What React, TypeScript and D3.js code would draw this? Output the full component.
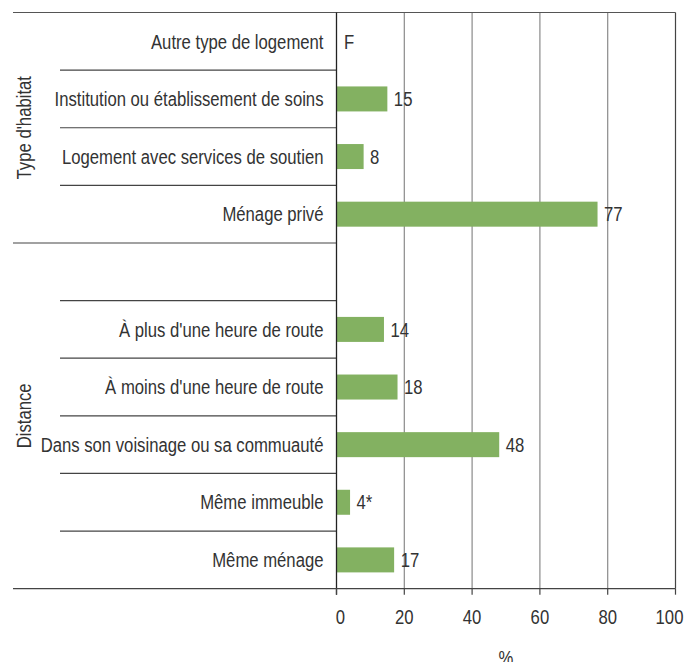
import React from "react";
import * as d3 from "d3";

const categories = [
  "Autre type de logement",
  "Institution ou établissement de soins",
  "Logement avec services de soutien",
  "Ménage privé",
  "",
  "À plus d'une heure de route",
  "À moins d'une heure de route",
  "Dans son voisinage ou sa commuauté",
  "Même immeuble",
  "Même ménage",
];
const values: (number | null)[] = [null, 15, 8, 77, null, 14, 18, 48, 4, 17];
const valueLabels = ["F", "15", "8", "77", "", "14", "18", "48", "4*", "17"];
const groups = [
  { name: "Type d'habitat", from: 0, to: 3 },
  { name: "Distance", from: 4, to: 9 },
];
const xTicks = [0, 20, 40, 60, 80, 100];
const xTitle = "%";

const W = 684;
const H = 662;
const FONT = "'Liberation Sans', Arial, sans-serif";
const TEXT = "#333";
const FS = 20;
const SX = 0.835;

function T({
  x,
  y,
  anchor = "start",
  rotate = 0,
  dy = "0.36em",
  children,
}: {
  x: number;
  y: number;
  anchor?: string;
  rotate?: number;
  dy?: string;
  children: React.ReactNode;
}) {
  return (
    <text
      transform={`translate(${x},${y}) rotate(${rotate}) scale(${SX},1)`}
      textAnchor={anchor}
      dy={dy}
      fontSize={FS}
      fill={TEXT}
    >
      {children}
    </text>
  );
}

export default function App() {
  const left = 336.5;
  const right = 675.5;
  const top = 12.5;
  const bottom = 588.7;
  const x = d3.scaleLinear().domain([0, 100]).range([left, right]);
  const y = d3
    .scaleBand<number>()
    .domain(categories.map((_, i) => i))
    .range([top, bottom])
    .padding(0);
  const bw = y.bandwidth();
  const barH = 25;

  const seps: { y: number; x0: number }[] = [];
  for (let i = 1; i < categories.length; i++) {
    const isGroupStart = groups.some((g) => g.from === i);
    seps.push({ y: y(i)!, x0: isGroupStart ? 13 : 60 });
  }

  return (
    <svg
      width={W}
      height={H}
      style={{ position: "absolute", left: 0, top: 0, background: "#fff" }}
      fontFamily={FONT}
    >
      {xTicks.slice(1).map((t) => (
        <line
          key={"g" + t}
          x1={x(t)}
          x2={x(t)}
          y1={top}
          y2={bottom}
          stroke={t === 100 ? "#444" : "#8a8a8a"}
          strokeWidth={1.2}
        />
      ))}
      <line x1={13} x2={right} y1={top} y2={top} stroke="#555" strokeWidth={1.2} />
      {seps.map((s, i) => (
        <line key={"s" + i} x1={s.x0} x2={left} y1={s.y} y2={s.y} stroke="#444" strokeWidth={1.2} />
      ))}
      {values.map((v, i) =>
        v == null ? null : (
          <rect
            key={"b" + i}
            x={x(0)}
            y={y(i)! + bw / 2 - barH / 2}
            width={x(v) - x(0)}
            height={barH}
            fill="#83b161"
          />
        )
      )}
      {valueLabels.map((l, i) => (
        <T key={"v" + i} x={x(values[i] ?? 0) + (values[i] == null ? 7.5 : 6.5)} y={y(i)! + bw / 2}>
          {l}
        </T>
      ))}
      {categories.map((c, i) => (
        <T key={"c" + i} x={left - 13} y={y(i)! + bw / 2} anchor="end">
          {c}
        </T>
      ))}
      {groups.map((g) => {
        const cy = (y(g.from)! + y(g.to)! + bw) / 2;
        return (
          <T key={g.name} x={24} y={cy} rotate={-90} anchor="middle">
            {g.name}
          </T>
        );
      })}
      <line x1={left} x2={left} y1={top} y2={bottom + 6} stroke="#222" strokeWidth={1.3} />
      <line x1={13} x2={right} y1={bottom} y2={bottom} stroke="#444" strokeWidth={1.3} />
      {xTicks.map((t, i) => (
        <g key={"t" + t}>
          <line x1={x(t)} x2={x(t)} y1={bottom} y2={bottom + 6} stroke="#444" strokeWidth={1.2} />
          <T
            x={x(t) + (i === 0 ? 4 : i === xTicks.length - 1 ? -6 : 0)}
            y={624}
            anchor="middle"
            dy="0"
          >
            {t}
          </T>
        </g>
      ))}
      <T x={(left + right) / 2} y={665} anchor="middle" dy="0">
        {xTitle}
      </T>
    </svg>
  );
}
